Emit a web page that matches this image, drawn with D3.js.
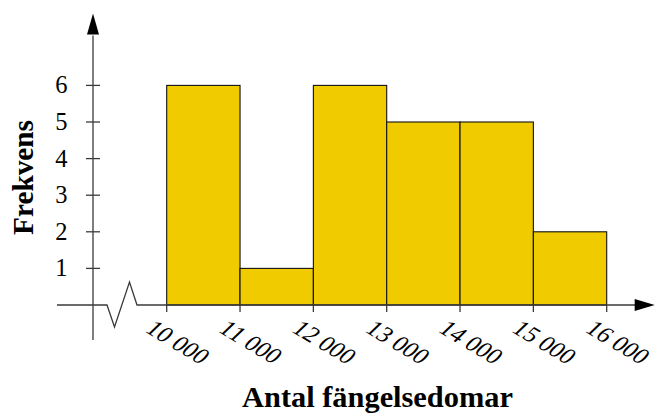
<!DOCTYPE html>
<html><head><meta charset="utf-8">
<script src="https://cdn.jsdelivr.net/npm/d3@7"></script>
<style>html,body{margin:0;padding:0;background:#fff;} svg{display:block;}</style>
</head><body>
<svg id="c" width="656" height="415"></svg>
<script>
const binStarts = [10000, 11000, 12000, 13000, 14000, 15000];
const binWidth = 1000;
const frequencies = [6, 1, 6, 5, 5, 2];
const xTickValues = [10000, 11000, 12000, 13000, 14000, 15000, 16000];
const yTickValues = [1, 2, 3, 4, 5, 6];
const xTitle = "Antal fängelsedomar";
const yTitle = "Frekvens";

const svg = d3.select("#c");
const x = d3.scaleLinear().domain([10000, 16000]).range([166.7, 606.7]);
const y = d3.scaleLinear().domain([0, 6]).range([305, 85.4]);
const axisX = 93; // vertical axis position
const base = y(0);
const axisColor = "#3a3a3a";
const fmt = v => { const s = String(v); return s.slice(0, s.length - 3) + " " + s.slice(-3); };

// bars
svg.append("g").selectAll("rect").data(binStarts).join("rect")
  .attr("x", (d) => x(d))
  .attr("y", (d, i) => y(frequencies[i]))
  .attr("width", d => x(d + binWidth) - x(d))
  .attr("height", (d, i) => base - y(frequencies[i]))
  .attr("fill", "#F0CB00")
  .attr("stroke", "#111")
  .attr("stroke-width", 1.1);

// x axis with break
const g = svg.append("g").attr("stroke", axisColor).attr("fill", "none").attr("stroke-width", 1.3);
g.append("path").attr("d",
  `M57,${base} L107,${base} L114.5,${base + 22} L129.5,${base - 23} L137,${base} L${x(16000) + 29},${base}`);
svg.append("path").attr("d", `M${x(16000) + 48},${base} L${x(16000) + 28},${base - 6} L${x(16000) + 28},${base + 6} Z`).attr("fill", "#000");

// y axis
g.append("line").attr("x1", axisX).attr("x2", axisX).attr("y1", base + 35).attr("y2", y(6) - 50);
svg.append("path").attr("d", `M${axisX},${y(6) - 72} L${axisX - 6},${y(6) - 51} L${axisX + 6},${y(6) - 51} Z`).attr("fill", "#000");

// y ticks
g.selectAll(".yt").data(yTickValues).join("line")
  .attr("x1", axisX - 7).attr("x2", axisX + 7)
  .attr("y1", d => y(d)).attr("y2", d => y(d));
svg.selectAll(".yl").data(yTickValues).join("text")
  .attr("x", 67.5).attr("y", d => y(d) + 8)
  .attr("text-anchor", "end")
  .attr("font-family", "Liberation Serif").attr("font-size", 24.5)
  .text(d => d);

// x ticks
g.selectAll(".xt").data(xTickValues).join("line")
  .attr("x1", d => x(d)).attr("x2", d => x(d))
  .attr("y1", base).attr("y2", base + 7);
svg.selectAll(".xl").data(xTickValues).join("text")
  .attr("transform", d => `translate(${x(d) - 23},${base + 26}) rotate(31) skewX(-15)`)
  .attr("font-family", "Liberation Serif").attr("font-size", 24)
  .text(d => fmt(d));

// titles
function fit(sel, target) {
  const w = sel.node().getComputedTextLength();
  const fs = parseFloat(sel.attr("font-size"));
  sel.attr("font-size", fs * target / w);
}
const xt = svg.append("text").attr("x", 377.5).attr("y", 407)
  .attr("text-anchor", "middle").attr("font-family", "Liberation Serif").attr("font-weight", "bold")
  .attr("font-size", 22).text(xTitle);
fit(xt, 271);
const yt = svg.append("text").attr("transform", "translate(32.5,177.5) rotate(-90)")
  .attr("text-anchor", "middle").attr("font-family", "Liberation Serif").attr("font-weight", "bold")
  .attr("font-size", 22).text(yTitle);
fit(yt, 115);
</script>
</body></html>
